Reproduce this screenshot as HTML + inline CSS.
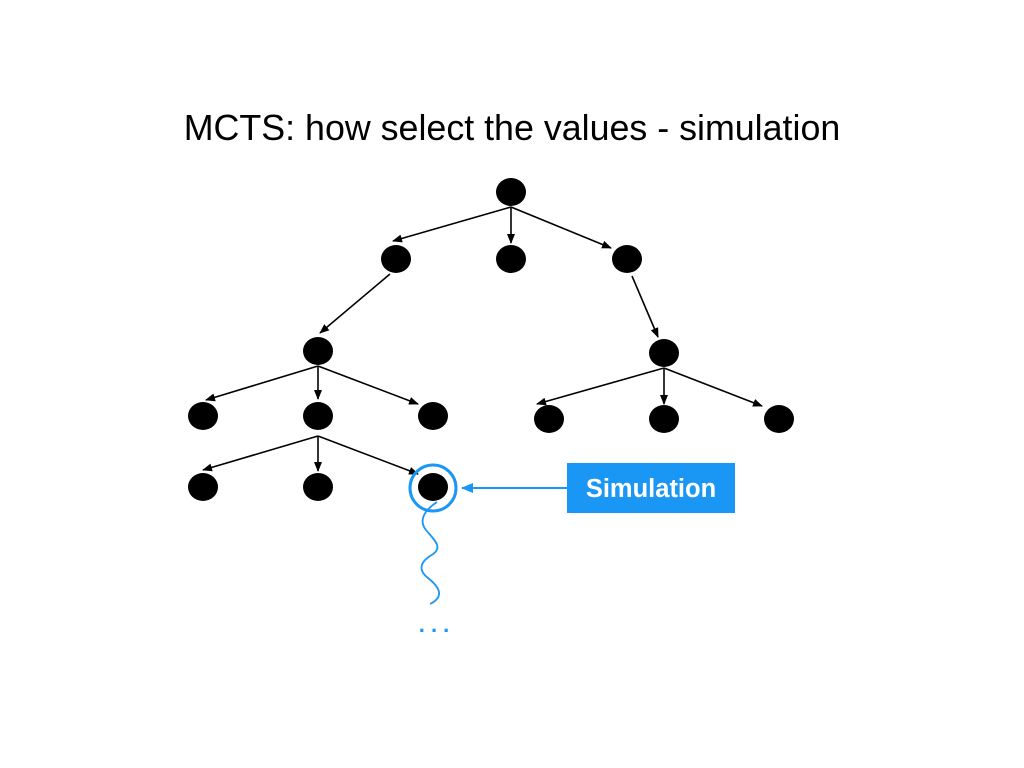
<!DOCTYPE html>
<html><head><style>body{margin:0;background:#fff}svg{display:block}</style></head><body>
<svg width="1024" height="768" viewBox="0 0 1024 768" xmlns="http://www.w3.org/2000/svg">
<defs>
<marker id="a" markerWidth="10" markerHeight="8" refX="9" refY="4" orient="auto" markerUnits="userSpaceOnUse"><path d="M0,0L10,4L0,8z" fill="#000"/></marker>
<marker id="b" markerWidth="12" markerHeight="10" refX="11" refY="5" orient="auto" markerUnits="userSpaceOnUse"><path d="M0,0L12,5L0,10z" fill="#1a96f5"/></marker>
</defs>
<text x="512" y="140" text-anchor="middle" font-family="Liberation Sans, sans-serif" font-size="35.8" fill="#000">MCTS: how select the values - simulation</text>
<g stroke="#000" stroke-width="1.6" marker-end="url(#a)">
<line x1="511" y1="207" x2="393" y2="241"/>
<line x1="511" y1="207" x2="511" y2="243"/>
<line x1="511" y1="207" x2="611" y2="248"/>
<line x1="390" y1="274" x2="320" y2="333"/>
<line x1="632" y1="276" x2="658" y2="337"/>
<line x1="318" y1="366" x2="206" y2="400"/>
<line x1="318" y1="366" x2="318" y2="399"/>
<line x1="318" y1="366" x2="418" y2="404"/>
<line x1="664" y1="368" x2="537" y2="404"/>
<line x1="664" y1="368" x2="664" y2="404"/>
<line x1="664" y1="368" x2="762" y2="406"/>
<line x1="318" y1="436" x2="203" y2="470"/>
<line x1="318" y1="436" x2="318" y2="471"/>
<line x1="318" y1="436" x2="418" y2="474"/>
</g>
<g fill="#000">
<ellipse cx="511" cy="192" rx="15" ry="14"/>
<ellipse cx="396" cy="259" rx="15" ry="14"/>
<ellipse cx="511" cy="259" rx="15" ry="14"/>
<ellipse cx="627" cy="259" rx="15" ry="14"/>
<ellipse cx="318" cy="351" rx="15" ry="14"/>
<ellipse cx="664" cy="353" rx="15" ry="14"/>
<ellipse cx="203" cy="416" rx="15" ry="14"/>
<ellipse cx="318" cy="416" rx="15" ry="14"/>
<ellipse cx="433" cy="416" rx="15" ry="14"/>
<ellipse cx="549" cy="419" rx="15" ry="14"/>
<ellipse cx="664" cy="419" rx="15" ry="14"/>
<ellipse cx="779" cy="419" rx="15" ry="14"/>
<ellipse cx="203" cy="487" rx="15" ry="14"/>
<ellipse cx="318" cy="487" rx="15" ry="14"/>
<ellipse cx="433" cy="487" rx="15" ry="14"/>
</g>
<circle cx="433" cy="488" r="23" fill="none" stroke="#1a96f5" stroke-width="3"/>
<line x1="567" y1="488" x2="462" y2="488" stroke="#1a96f5" stroke-width="2" marker-end="url(#b)"/>
<rect x="567" y="463" width="168" height="50" fill="#1a96f5"/>
<text x="651" y="497" text-anchor="middle" font-family="Liberation Sans, sans-serif" font-weight="bold" font-size="25.5" fill="#fff">Simulation</text>
<path d="M437,502 C425,510 418,520 426,530 C434,540 445,548 430,556 C418,564 420,572 428,578 C438,586 446,596 430,604" fill="none" stroke="#1a96f5" stroke-width="1.8"/>
<text x="434" y="632" text-anchor="middle" font-family="Liberation Sans, sans-serif" font-weight="bold" font-size="22" fill="#1a96f5">. . .</text>
</svg>
</body></html>
